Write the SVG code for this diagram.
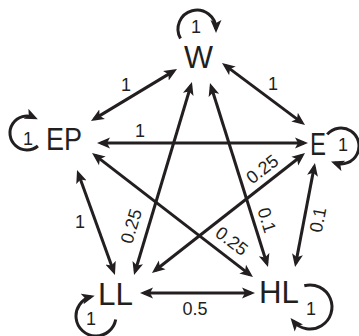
<svg xmlns="http://www.w3.org/2000/svg" width="359" height="336" viewBox="0 0 359 336">
<defs>
<marker id="ah" markerUnits="userSpaceOnUse" markerWidth="14" markerHeight="12" refX="9" refY="5.5" orient="auto-start-reverse" viewBox="0 0 14 11">
<path d="M0,0 L13,5.5 L0,11 L3,5.5 z" fill="#231f20"/>
</marker>
<style>
.e{stroke:#231f20;stroke-width:3;fill:none;marker-end:url(#ah)}
.d{marker-start:url(#ah)}
.n{font-family:"Liberation Sans",Arial,sans-serif;font-size:31px;fill:#231f20}
.l{font-family:"Liberation Sans",Arial,sans-serif;font-size:18px;fill:#231f20;text-anchor:middle}
</style>
</defs>
<rect width="359" height="336" fill="#fff"/>
<g id="connectors">
<line class="e d" x1="94.4" y1="118.9" x2="173.6" y2="71.1"/>
<line class="e d" x1="225.2" y1="65.4" x2="301.8" y2="122.6"/>
<line class="e d" x1="101" y1="143" x2="304" y2="143"/>
<line class="e d" x1="78.4" y1="173.8" x2="113.6" y2="271.2"/>
<line class="e d" x1="190.8" y1="85.8" x2="135.2" y2="271.2"/>
<line class="e d" x1="211.2" y1="86.8" x2="266.8" y2="263.2"/>
<line class="e d" x1="95.2" y1="155.4" x2="249.8" y2="274.6"/>
<line class="e d" x1="301.9" y1="155.5" x2="155.1" y2="270.5"/>
<line class="e d" x1="314.2" y1="166.9" x2="295.8" y2="263.1"/>
<line class="e d" x1="144" y1="293" x2="251" y2="293"/>
<path class="e" d="M180.5,38.5 A19,19 0 1 1 216,29"/>
<path class="e" d="M37.9,146 A17,17 0 1 1 34.2,117.6"/>
<path class="e" d="M327.2,134.4 A18,18 0 1 1 334.8,162.9"/>
<path class="e" d="M115.7,319.5 A20,20 0 1 1 90.8,296.7"/>
<path class="e" d="M304.3,285.7 A22,22 0 1 1 293.1,321.1"/>
<text class="l" x="196" y="33">1</text>
<text class="l" x="28" y="145">1</text>
<text class="l" x="343" y="151">1</text>
<text class="l" x="91" y="325">1</text>
<text class="l" x="311" y="315">1</text>
<text class="l" x="126" y="91">1</text>
<text class="l" x="273" y="90">1</text>
<text class="l" x="140" y="137">1</text>
<text class="l" x="80" y="228">1</text>
<text class="l" x="195" y="315">0.5</text>
<text class="l" transform="translate(137,228) rotate(-73)">0.25</text>
<text class="l" transform="translate(261,222) rotate(72.5)">0.1</text>
<text class="l" transform="translate(228,246) rotate(37.6)">0.25</text>
<text class="l" transform="translate(266,174) rotate(-38)">0.25</text>
<text class="l" transform="translate(324,221) rotate(-79)">0.1</text>
</g>
<g id="W"><text class="n" x="184" y="68" textLength="29" lengthAdjust="spacingAndGlyphs">W</text></g>
<g id="EP"><text class="n" x="46" y="150" textLength="36" lengthAdjust="spacingAndGlyphs">EP</text></g>
<g id="E"><text class="n" x="310" y="155" textLength="16" lengthAdjust="spacingAndGlyphs">E</text></g>
<g id="LL"><text class="n" x="98" y="305" textLength="35" lengthAdjust="spacingAndGlyphs">LL</text></g>
<g id="HL"><text class="n" x="259" y="303" textLength="40" lengthAdjust="spacingAndGlyphs">HL</text></g>
</svg>
